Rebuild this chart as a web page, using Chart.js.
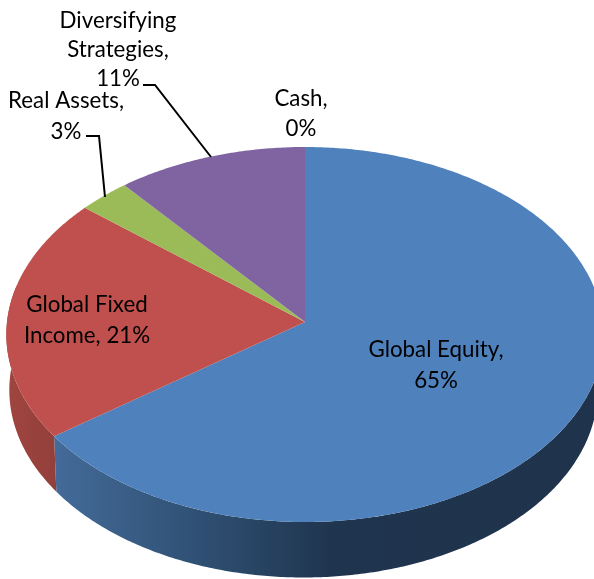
<!DOCTYPE html>
<html>
<head>
<meta charset="utf-8">
<style>html,body{margin:0;padding:0;background:#fff}canvas{display:block}</style>
<script src="https://cdn.jsdelivr.net/npm/chart.js@4"></script>
</head>
<body>
<canvas id="c" width="594" height="579"></canvas>
<script>
const categories = ["Global Equity", "Global Fixed Income", "Real Assets", "Diversifying Strategies", "Cash"];
const shares = [65, 21, 3, 11, 0];
const faceColors = ["#4f81bd", "#c0504d", "#9bbb59", "#8064a2", "#4bacc6"];
const wallStops = [
  [[57, "#436a98"], [200, "#2f5073"], [335, "#1f344e"], [594, "#1f334c"]],
  [[8, "#a0453f"], [57, "#923f3b"]],
  null, null, null
];
const labelLines = [
  ["Global Equity,", "65%"],
  ["Global Fixed", "Income, 21%"],
  ["Real Assets,", "3%"],
  ["Diversifying", "Strategies,", "11%"],
  ["Cash,", "0%"]
];
const labelAnchors = [[436, 350, 31], [87, 305, 31], [66, 101, 31], [118, 21, 29], [301, 99, 30]];
const leaderLines = [
  [[143, 85], [155, 85], [211, 157]],
  [[86, 136], [99, 136], [105, 197]]
];

const view = {cx: 305, cy: 322, a: 298, b: 186.67, p: 1 / 15, depth: 55.5, shrink: 0.985, lowCx: 303.5};
function rim(t) {
  const w = 1 - view.p * Math.sin(t);
  return [view.cx + view.a * Math.cos(t) / w, view.cy + view.b * Math.sin(t) / w];
}
function low(pt) {
  return [view.lowCx + (pt[0] - view.cx) * view.shrink, pt[1] + view.depth];
}
function samples(s, e) {
  const n = Math.max(2, Math.ceil(Math.abs(e - s) / 0.01));
  const out = [];
  for (let i = 0; i <= n; i++) out.push(s + (e - s) * i / n);
  return out;
}

const tiltedPie = {
  id: "tiltedPie",
  beforeDatasetDraw(chart, args) {
    const ctx = chart.ctx;
    const arcs = chart.getDatasetMeta(args.index).data;
    ctx.save();
    // side wall
    arcs.forEach((el, i) => {
      const stops = wallStops[i];
      if (!stops || el.endAngle <= el.startAngle) return;
      const s = Math.max(el.startAngle, -0.09);
      const e = Math.min(el.endAngle, Math.PI + 0.2);
      if (e <= s) return;
      const top = samples(s, e).map(rim);
      const x0 = stops[0][0], x1 = stops[stops.length - 1][0];
      const g = ctx.createLinearGradient(x0, 0, x1, 0);
      stops.forEach(st => g.addColorStop((st[0] - x0) / (x1 - x0), st[1]));
      ctx.fillStyle = g;
      ctx.beginPath();
      top.forEach((p, k) => k ? ctx.lineTo(p[0], p[1]) : ctx.moveTo(p[0], p[1]));
      top.slice().reverse().map(low).forEach(p => ctx.lineTo(p[0], p[1]));
      ctx.closePath();
      ctx.fill();
    });
    // top faces
    arcs.forEach((el, i) => {
      if (el.endAngle <= el.startAngle) return;
      ctx.fillStyle = faceColors[i];
      ctx.beginPath();
      ctx.moveTo(view.cx, view.cy);
      samples(el.startAngle, el.endAngle).map(rim).forEach(p => ctx.lineTo(p[0], p[1]));
      ctx.closePath();
      ctx.fill();
    });
    ctx.restore();
    return false;
  },
  afterDatasetsDraw(chart) {
    const ctx = chart.ctx;
    ctx.save();
    ctx.strokeStyle = "#000";
    ctx.lineWidth = 2;
    leaderLines.forEach(l => {
      ctx.beginPath();
      l.forEach((p, k) => k ? ctx.lineTo(p[0], p[1]) : ctx.moveTo(p[0], p[1]));
      ctx.stroke();
    });
    ctx.fillStyle = "#000";
    ctx.font = "22.3px Lato";
    ctx.textAlign = "center";
    ctx.textBaseline = "middle";
    labelLines.forEach((lines, i) => {
      const a = labelAnchors[i];
      lines.forEach((t, k) => ctx.fillText(t, a[0], a[1] + k * a[2]));
    });
    ctx.restore();
  }
};

new Chart(document.getElementById("c"), {
  type: "pie",
  data: {labels: categories, datasets: [{data: shares, backgroundColor: faceColors, borderWidth: 0}]},
  options: {
    responsive: false,
    animation: false,
    plugins: {legend: {display: false}, tooltip: {enabled: false}}
  },
  plugins: [tiltedPie]
});
</script>
</body>
</html>
